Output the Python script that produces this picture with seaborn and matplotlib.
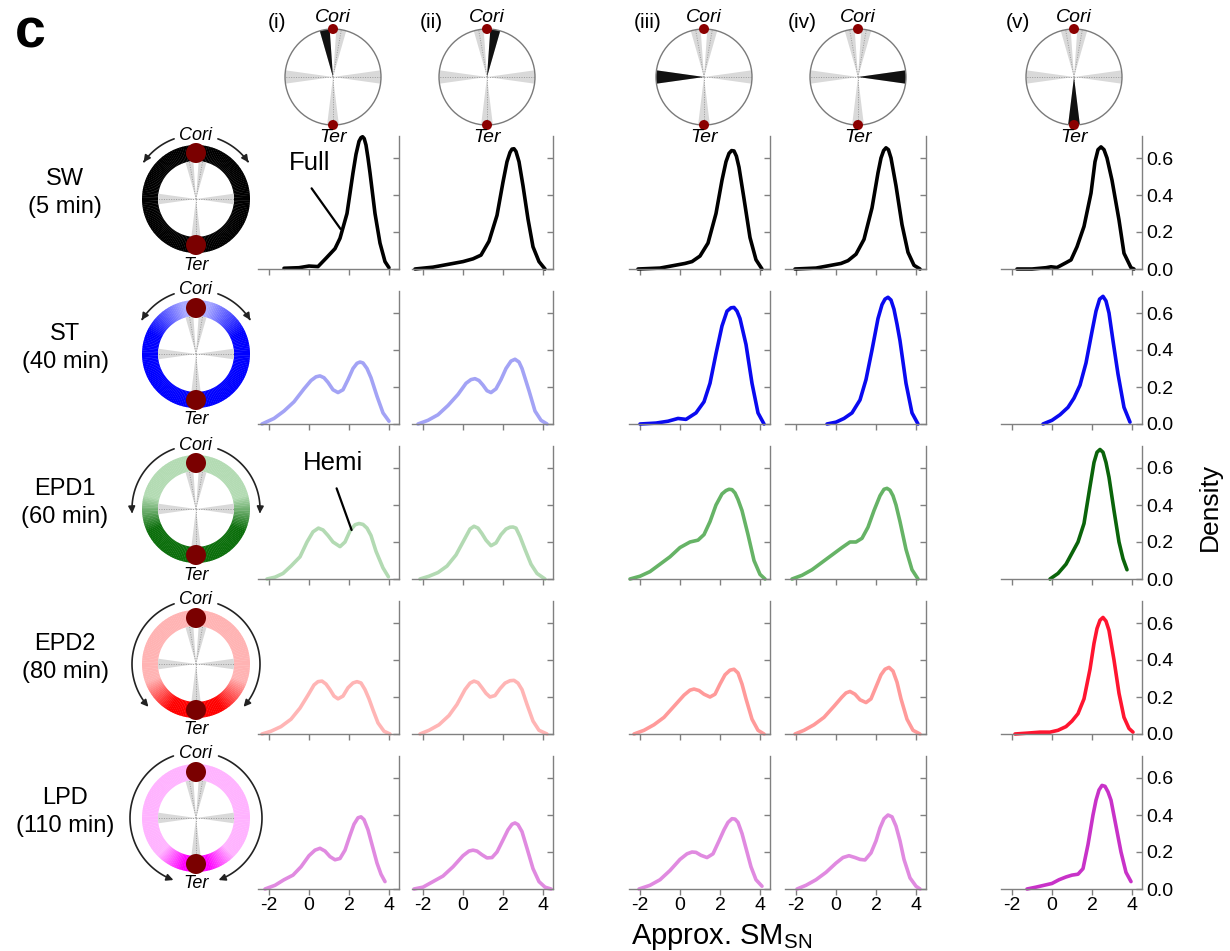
import numpy as np
import matplotlib
matplotlib.use("Agg")
import matplotlib.pyplot as plt
import seaborn as sns
from matplotlib.patches import Circle, Wedge, FancyArrowPatch
from matplotlib.path import Path
from matplotlib.colors import to_rgb

sns.set_style("ticks")
plt.rcParams["font.family"] = ["Liberation Sans", "DejaVu Sans"]
plt.rcParams["text.color"] = "black"
plt.rcParams["axes.labelcolor"] = "black"
plt.rcParams["xtick.labelcolor"] = "black"
plt.rcParams["ytick.labelcolor"] = "black"

# ---------------------------------------------------------------- data
STRAINS = ["SW\n(5 min)", "ST\n(40 min)", "EPD1\n(60 min)", "EPD2\n(80 min)", "LPD\n(110 min)"]
PANELS = ["(i)", "(ii)", "(iii)", "(iv)", "(v)"]
X_TICKS = [-2, 0, 2, 4]
X_TICK_LABELS = ["-2", "0", "2", "4"]
Y_TICKS = [0.0, 0.2, 0.4, 0.6]
Y_TICK_LABELS = ["0.0", "0.2", "0.4", "0.6"]

# highlighted chromosome sector of each column (degrees, Cori at 90)
SECTOR_FROM = [94, 74, 172, -8, 263]
SECTOR_TO = [106, 86, 188, 8, 277]
# light grey sectors drawn in every chromosome diagram
SPOKES = [(74, 86), (94, 106), (172, 188), (-8, 8), (263, 277)]

# density curves, one list per column (i)..(v)
SW_X = [
    [-1.25, -0.5, 0.0, 0.45, 0.85, 1.3, 1.55, 1.9, 2.2, 2.35, 2.5, 2.6, 2.68, 2.76, 2.85, 2.95, 3.05, 3.3, 3.55, 3.8, 4.0],
    [-2.4, -1.5, -0.75, 0.0, 0.5, 0.9, 1.3, 1.7, 2.0, 2.2, 2.35, 2.45, 2.55, 2.65, 2.8, 3.0, 3.25, 3.5, 3.8, 4.1],
    [-2.1, -1.0, -0.25, 0.25, 0.6, 1.0, 1.4, 1.8, 2.1, 2.3, 2.45, 2.58, 2.7, 2.82, 2.95, 3.2, 3.5, 3.8, 4.1],
    [-2.05, -1.0, -0.25, 0.25, 0.6, 1.0, 1.4, 1.8, 2.1, 2.25, 2.38, 2.5, 2.62, 2.75, 3.0, 3.3, 3.6, 3.9, 4.2],
    [-1.75, -1.0, -0.3, -0.05, 0.25, 0.7, 0.95, 1.25, 1.6, 1.95, 2.15, 2.3, 2.45, 2.6, 2.75, 3.0, 3.35, 3.6, 3.95, 4.1],
]
SW_Y = [
    [0.004, 0.007, 0.016, 0.013, 0.058, 0.11, 0.166, 0.30, 0.52, 0.62, 0.69, 0.71, 0.715, 0.705, 0.67, 0.60, 0.52, 0.30, 0.14, 0.04, 0.007],
    [0.0, 0.01, 0.025, 0.04, 0.055, 0.075, 0.15, 0.29, 0.47, 0.58, 0.63, 0.648, 0.65, 0.635, 0.58, 0.45, 0.27, 0.12, 0.04, 0.0],
    [0.0, 0.005, 0.02, 0.03, 0.04, 0.07, 0.14, 0.30, 0.48, 0.58, 0.625, 0.64, 0.638, 0.61, 0.55, 0.38, 0.17, 0.05, 0.0],
    [0.0, 0.005, 0.02, 0.03, 0.045, 0.08, 0.16, 0.33, 0.52, 0.60, 0.64, 0.655, 0.645, 0.60, 0.45, 0.24, 0.09, 0.02, 0.0],
    [0.0, 0.0, 0.007, 0.012, 0.008, 0.034, 0.049, 0.12, 0.23, 0.41, 0.58, 0.645, 0.66, 0.645, 0.60, 0.48, 0.265, 0.085, 0.007, 0.0],
]
ST_X = [
    [-2.35, -1.75, -1.25, -0.75, -0.25, 0.1, 0.35, 0.55, 0.75, 0.95, 1.2, 1.45, 1.7, 1.95, 2.2, 2.4, 2.55, 2.7, 2.9, 3.1, 3.4, 3.7, 4.0],
    [-2.25, -1.75, -1.25, -0.75, -0.25, 0.15, 0.4, 0.6, 0.8, 1.0, 1.2, 1.4, 1.65, 1.9, 2.15, 2.4, 2.6, 2.8, 2.95, 3.3, 3.6, 3.9, 4.2],
    [-2.0, -1.2, -0.6, -0.1, 0.3, 0.8, 1.2, 1.5, 1.8, 2.1, 2.35, 2.55, 2.7, 2.85, 3.0, 3.15, 3.3, 3.6, 3.9, 4.2],
    [-0.45, 0.0, 0.4, 0.8, 1.2, 1.5, 1.8, 2.1, 2.3, 2.45, 2.6, 2.75, 2.9, 3.05, 3.2, 3.5, 3.8, 4.1],
    [-0.45, 0.0, 0.4, 0.8, 1.1, 1.4, 1.7, 2.0, 2.2, 2.38, 2.55, 2.7, 2.85, 3.05, 3.3, 3.6, 3.9],
]
ST_Y = [
    [0.0, 0.03, 0.07, 0.12, 0.19, 0.235, 0.255, 0.26, 0.25, 0.225, 0.185, 0.17, 0.185, 0.24, 0.30, 0.328, 0.335, 0.33, 0.30, 0.25, 0.15, 0.06, 0.015],
    [0.0, 0.02, 0.05, 0.10, 0.16, 0.22, 0.24, 0.245, 0.235, 0.21, 0.18, 0.17, 0.19, 0.24, 0.30, 0.34, 0.35, 0.335, 0.30, 0.18, 0.07, 0.02, 0.0],
    [0.0, 0.005, 0.015, 0.03, 0.025, 0.06, 0.12, 0.22, 0.38, 0.53, 0.61, 0.628, 0.63, 0.61, 0.57, 0.50, 0.43, 0.22, 0.06, 0.0],
    [0.0, 0.01, 0.03, 0.06, 0.13, 0.24, 0.40, 0.57, 0.645, 0.675, 0.685, 0.67, 0.62, 0.54, 0.45, 0.22, 0.06, 0.0],
    [0.0, 0.02, 0.05, 0.09, 0.14, 0.21, 0.33, 0.50, 0.61, 0.675, 0.69, 0.665, 0.60, 0.45, 0.27, 0.09, 0.01],
]
EPD1_X = [
    [-2.1, -1.7, -1.3, -0.9, -0.45, -0.1, 0.2, 0.47, 0.7, 0.95, 1.2, 1.55, 1.8, 2.05, 2.3, 2.5, 2.7, 2.9, 3.1, 3.35, 3.7, 3.97],
    [-2.15, -1.7, -1.25, -0.8, -0.35, 0.1, 0.35, 0.55, 0.75, 0.95, 1.15, 1.4, 1.65, 1.9, 2.15, 2.35, 2.5, 2.65, 2.85, 3.1, 3.4, 3.7, 4.1],
    [-2.5, -2.0, -1.5, -1.0, -0.5, 0.0, 0.5, 0.9, 1.2, 1.5, 1.8, 2.1, 2.3, 2.45, 2.6, 2.75, 2.9, 3.1, 3.4, 3.7, 4.0, 4.25],
    [-2.2, -1.7, -1.2, -0.7, -0.2, 0.3, 0.7, 1.0, 1.3, 1.6, 1.9, 2.2, 2.4, 2.55, 2.7, 2.85, 3.0, 3.2, 3.5, 3.8, 4.1],
    [-0.1, 0.3, 0.7, 1.0, 1.3, 1.6, 1.9, 2.1, 2.25, 2.4, 2.55, 2.7, 2.85, 3.1, 3.35, 3.55, 3.75],
]
EPD1_Y = [
    [0.0, 0.01, 0.03, 0.07, 0.12, 0.20, 0.255, 0.275, 0.265, 0.235, 0.20, 0.175, 0.20, 0.26, 0.293, 0.30, 0.295, 0.275, 0.235, 0.15, 0.06, 0.012],
    [0.0, 0.015, 0.035, 0.07, 0.13, 0.22, 0.27, 0.285, 0.275, 0.245, 0.21, 0.18, 0.195, 0.24, 0.27, 0.28, 0.281, 0.275, 0.23, 0.16, 0.08, 0.03, 0.0],
    [0.0, 0.015, 0.04, 0.08, 0.12, 0.17, 0.20, 0.21, 0.24, 0.31, 0.40, 0.46, 0.478, 0.485, 0.483, 0.465, 0.43, 0.37, 0.24, 0.10, 0.025, 0.0],
    [0.0, 0.02, 0.05, 0.09, 0.13, 0.17, 0.20, 0.20, 0.22, 0.28, 0.37, 0.45, 0.485, 0.49, 0.48, 0.45, 0.40, 0.31, 0.16, 0.05, 0.0],
    [0.0, 0.03, 0.08, 0.14, 0.20, 0.30, 0.50, 0.63, 0.685, 0.70, 0.685, 0.63, 0.55, 0.37, 0.20, 0.11, 0.05],
]
EPD2_X = [
    [-2.35, -1.9, -1.4, -0.9, -0.45, -0.05, 0.25, 0.45, 0.65, 0.85, 1.05, 1.25, 1.45, 1.7, 1.95, 2.2, 2.4, 2.6, 2.8, 3.0, 3.2, 3.45, 3.75, 4.05],
    [-2.15, -1.7, -1.2, -0.7, -0.3, 0.1, 0.35, 0.55, 0.75, 0.95, 1.15, 1.35, 1.6, 1.85, 2.1, 2.35, 2.55, 2.75, 2.95, 3.2, 3.5, 3.8, 4.2],
    [-2.3, -1.8, -1.3, -0.8, -0.3, 0.2, 0.5, 0.7, 0.95, 1.2, 1.5, 1.75, 2.0, 2.25, 2.5, 2.7, 2.9, 3.1, 3.3, 3.6, 3.9, 4.2],
    [-2.05, -1.6, -1.1, -0.6, -0.1, 0.3, 0.5, 0.7, 0.95, 1.2, 1.5, 1.75, 2.0, 2.25, 2.45, 2.65, 2.85, 3.05, 3.25, 3.55, 3.85, 4.2],
    [-1.85, -1.2, -0.6, -0.1, 0.3, 0.7, 1.0, 1.3, 1.6, 1.9, 2.1, 2.25, 2.4, 2.55, 2.7, 2.85, 3.1, 3.35, 3.6, 3.85, 4.05],
]
EPD2_Y = [
    [0.0, 0.015, 0.04, 0.08, 0.14, 0.21, 0.265, 0.283, 0.286, 0.27, 0.24, 0.205, 0.19, 0.205, 0.25, 0.276, 0.283, 0.276, 0.24, 0.19, 0.13, 0.06, 0.015, 0.0],
    [0.0, 0.02, 0.05, 0.10, 0.16, 0.24, 0.275, 0.286, 0.278, 0.25, 0.22, 0.20, 0.208, 0.245, 0.275, 0.288, 0.29, 0.275, 0.24, 0.16, 0.07, 0.02, 0.0],
    [0.0, 0.02, 0.05, 0.09, 0.15, 0.21, 0.237, 0.243, 0.235, 0.215, 0.20, 0.215, 0.27, 0.32, 0.345, 0.35, 0.33, 0.27, 0.19, 0.08, 0.02, 0.0],
    [0.0, 0.02, 0.05, 0.09, 0.15, 0.20, 0.222, 0.23, 0.215, 0.185, 0.17, 0.19, 0.255, 0.32, 0.35, 0.36, 0.34, 0.28, 0.19, 0.08, 0.02, 0.0],
    [0.0, 0.005, 0.01, 0.01, 0.02, 0.04, 0.07, 0.11, 0.19, 0.35, 0.49, 0.57, 0.615, 0.63, 0.61, 0.56, 0.40, 0.22, 0.09, 0.03, 0.01],
]
LPD_X = [
    [-2.2, -1.7, -1.25, -0.8, -0.4, 0.0, 0.3, 0.55, 0.8, 1.05, 1.3, 1.55, 1.8, 2.05, 2.25, 2.45, 2.6, 2.75, 2.95, 3.15, 3.4, 3.6, 3.8],
    [-2.45, -2.0, -1.5, -1.0, -0.5, 0.0, 0.3, 0.5, 0.7, 0.95, 1.2, 1.45, 1.7, 2.0, 2.25, 2.45, 2.6, 2.75, 2.95, 3.2, 3.5, 3.8, 4.1, 4.4],
    [-2.05, -1.5, -1.0, -0.5, 0.0, 0.35, 0.6, 0.8, 1.05, 1.35, 1.65, 1.95, 2.2, 2.4, 2.6, 2.75, 2.9, 3.1, 3.3, 3.55, 3.8, 4.1],
    [-1.95, -1.5, -1.0, -0.5, 0.0, 0.35, 0.65, 0.95, 1.2, 1.45, 1.75, 2.0, 2.2, 2.4, 2.6, 2.8, 3.0, 3.2, 3.4, 3.7, 4.0, 4.2],
    [-1.25, -0.8, -0.4, 0.0, 0.35, 0.7, 1.0, 1.3, 1.55, 1.8, 2.05, 2.2, 2.35, 2.5, 2.65, 2.8, 2.95, 3.2, 3.45, 3.7, 3.95],
]
LPD_Y = [
    [0.0, 0.02, 0.05, 0.075, 0.12, 0.18, 0.21, 0.22, 0.205, 0.175, 0.158, 0.165, 0.21, 0.29, 0.35, 0.385, 0.39, 0.375, 0.32, 0.24, 0.14, 0.08, 0.04],
    [0.0, 0.01, 0.04, 0.07, 0.12, 0.18, 0.205, 0.21, 0.205, 0.185, 0.168, 0.17, 0.20, 0.265, 0.32, 0.35, 0.357, 0.348, 0.31, 0.22, 0.11, 0.04, 0.01, 0.0],
    [0.0, 0.02, 0.05, 0.10, 0.16, 0.19, 0.20, 0.198, 0.182, 0.17, 0.19, 0.26, 0.32, 0.36, 0.38, 0.378, 0.36, 0.30, 0.22, 0.12, 0.05, 0.015],
    [0.0, 0.02, 0.05, 0.09, 0.14, 0.17, 0.18, 0.17, 0.16, 0.157, 0.195, 0.26, 0.33, 0.38, 0.40, 0.39, 0.34, 0.26, 0.16, 0.06, 0.015, 0.0],
    [0.0, 0.01, 0.02, 0.03, 0.05, 0.065, 0.075, 0.08, 0.11, 0.24, 0.40, 0.48, 0.535, 0.56, 0.555, 0.525, 0.48, 0.34, 0.20, 0.09, 0.04],
]
CURVES_X = [SW_X, ST_X, EPD1_X, EPD2_X, LPD_X]
CURVES_Y = [SW_Y, ST_Y, EPD1_Y, EPD2_Y, LPD_Y]

LINE_COLORS = [
    ["#000000"] * 5,
    ["#a3a3f5", "#a3a3f5", "#0a0af0", "#0a0af0", "#0a0af0"],
    ["#b3dab3", "#b3dab3", "#66b366", "#66b366", "#0a640a"],
    ["#ffb5b5", "#ffb5b5", "#ff9a9a", "#ff9a9a", "#ff1530"],
    ["#e08ae0", "#e08ae0", "#e08ae0", "#e08ae0", "#c832c8"],
]

# ring colouring of the replicating chromosome per strain
RING_LIGHT = ["#000000", "#a8a8ff", "#b3dbb3", "#ffb3b3", "#ffb3ff"]
RING_DARK = ["#000000", "#0000ff", "#0b6e0b", "#ff0000", "#ff00ff"]
RING_FADE_START = [0, 15, 75, 110, 135]
RING_FADE_END = [1, 65, 115, 150, 165]
ARC_END = [145, 148, 184, 222, 250]

# ---------------------------------------------------------------- layout (pixels)
W, H = 1230, 951
COL_ZERO_PX = [309, 463, 680, 836, 1052]
ROW_BASE_PX = [269, 424, 579, 734, 889]
PX_PER_X, PX_PER_Y = 20.0, 185.0
XLIM, YLIM = (-2.55, 4.5), (0.0, 0.72)

DIAL_CX = [333, 487, 704, 858, 1074]
DIAL_CY, DIAL_R = 77, 48
RING_CX = 196
RING_CY = [199, 354, 509, 664, 818]
RING_IN, RING_OUT = 38, 54

fig = plt.figure(figsize=(W / 100, H / 100), dpi=100)
over = fig.add_axes([0, 0, 1, 1])
over.set_xlim(0, W)
over.set_ylim(0, H)
over.axis("off")


def P(x, y):
    return x, H - y


def draw_spokes(cx, cy, r, z=2):
    for a0, a1 in SPOKES:
        over.add_patch(Wedge((cx, cy), r, a0, a1, fc="#d9d9d9", ec="none", zorder=z))
        m = np.deg2rad((a0 + a1) / 2)
        over.plot([cx, cx + r * np.cos(m)], [cy, cy + r * np.sin(m)],
                  ls=(0, (1, 1.5)), color="#9a9a9a", lw=0.7, zorder=z + 0.5)


# chromosome diagrams above the columns
for i in range(5):
    cx, cy = P(DIAL_CX[i], DIAL_CY)
    draw_spokes(cx, cy, DIAL_R)
    over.add_patch(Wedge((cx, cy), DIAL_R, SECTOR_FROM[i], SECTOR_TO[i],
                         fc="#111111", ec="none", zorder=4))
    over.add_patch(Circle((cx, cy), DIAL_R, fill=False, ec="#7a7a7a", lw=1.0, zorder=5))
    for sgn in (1, -1):
        over.add_patch(Circle((cx, cy + sgn * DIAL_R), 5, fc="#8b0000", ec="none", zorder=6))
    over.text(cx, cy + DIAL_R + 11, "Cori", style="italic", fontsize=14,
              ha="center", va="center", zorder=7)
    over.text(cx, cy - DIAL_R - 12, "Ter", style="italic", fontsize=14,
              ha="center", va="center", zorder=7)
    over.text(*P(DIAL_CX[i] - 56, 22), PANELS[i], fontsize=15, ha="center", va="center")

# replication rings next to the rows
for r in range(5):
    cx, cy = P(RING_CX, RING_CY[r])
    light, dark = np.array(to_rgb(RING_LIGHT[r])), np.array(to_rgb(RING_DARK[r]))
    span = max(RING_FADE_END[r] - RING_FADE_START[r], 1)
    for a in range(0, 360, 2):
        mid = a + 1
        d = abs(((mid - 90 + 180) % 360) - 180)
        t = np.clip((d - RING_FADE_START[r]) / span, 0, 1)
        col = (1 - t) * light + t * dark
        over.add_patch(Wedge((cx, cy), RING_OUT, a, a + 2.4, width=RING_OUT - RING_IN,
                             fc=col, ec="none", zorder=2))
    draw_spokes(cx, cy, RING_IN, z=3)
    rmid = (RING_IN + RING_OUT) / 2
    for sgn in (1, -1):
        over.add_patch(Circle((cx, cy + sgn * rmid), 10, fc="#7a0000", ec="none", zorder=6))
    over.text(cx, cy + 64, "Cori", style="italic", fontsize=13, ha="center", va="center", zorder=7)
    over.text(cx, cy - 66, "Ter", style="italic", fontsize=13, ha="center", va="center", zorder=7)
    rad = 64 if r < 4 else 66
    for side in (1, -1):
        angs = np.deg2rad(np.linspace(110, ARC_END[r], 60))
        if side == -1:
            angs = np.pi - angs
        verts = np.column_stack([cx + rad * np.cos(angs), cy + rad * np.sin(angs)])
        arrow = FancyArrowPatch(path=Path(verts), arrowstyle="-|>", mutation_scale=10,
                                lw=1.2, color="#222222", shrinkA=0, shrinkB=0, zorder=5)
        over.add_patch(arrow)
    over.text(*P(65, RING_CY[r] - 6), STRAINS[r], fontsize=17, ha="center", va="center",
              linespacing=1.35)

over.text(*P(30, 33), "c", fontsize=40, fontweight="heavy", ha="center", va="center")
over.text(*P(722, 944), r"Approx. SM$_{\mathregular{SN}}$", fontsize=21, ha="center",
          va="baseline")
over.text(*P(1210, 507), "Density", fontsize=19, rotation=90, ha="center", va="center")

# ---------------------------------------------------------------- density panels
axes = {}
for r in range(5):
    for c in range(5):
        left_px = COL_ZERO_PX[c] + XLIM[0] * PX_PER_X
        w_px = (XLIM[1] - XLIM[0]) * PX_PER_X
        h_px = (YLIM[1] - YLIM[0]) * PX_PER_Y
        ax = fig.add_axes([left_px / W, 1 - ROW_BASE_PX[r] / H, w_px / W, h_px / H])
        ax.patch.set_alpha(0)
        sns.lineplot(x=CURVES_X[r][c], y=CURVES_Y[r][c], ax=ax, color=LINE_COLORS[r][c],
                     linewidth=2.6, sort=False, estimator=None)
        for ln in ax.lines:
            ln.set_clip_on(False)
            ln.set_solid_capstyle("round")
            ln.set_solid_joinstyle("round")
        ax.set_xlim(*XLIM)
        ax.set_ylim(*YLIM)
        ax.set_xlabel("")
        ax.set_ylabel("")
        sns.despine(ax=ax, left=True, top=True, right=False, bottom=False)
        for s in ("right", "bottom"):
            ax.spines[s].set_color("#808080")
            ax.spines[s].set_linewidth(1.0)
        ax.yaxis.tick_right()
        ax.set_xticks(X_TICKS)
        ax.set_yticks(Y_TICKS)
        ax.set_xticklabels(X_TICK_LABELS if r == 4 else [])
        ax.set_yticklabels(Y_TICK_LABELS if c == 4 else [])
        ax.tick_params(axis="x", direction="out", length=4, width=1, color="#808080",
                       labelcolor="black", labelsize=14, pad=2)
        ax.tick_params(axis="y", direction="in", length=4, width=1, color="#808080",
                       labelcolor="black", labelsize=14, pad=3)
        axes[(r, c)] = ax

# callouts on the first column
ax = axes[(0, 0)]
ax.plot([0.13, 1.58], [0.436, 0.216], color="black", lw=1.6, clip_on=False)
ax.text(0.05, 0.573, "Full", fontsize=18.5, ha="center", va="center")
ax = axes[(2, 0)]
ax.plot([1.38, 2.13], [0.49, 0.265], color="black", lw=1.6, clip_on=False)
ax.text(1.22, 0.625, "Hemi", fontsize=18.5, ha="center", va="center", clip_on=False)

fig.savefig("out.png", dpi=100)
